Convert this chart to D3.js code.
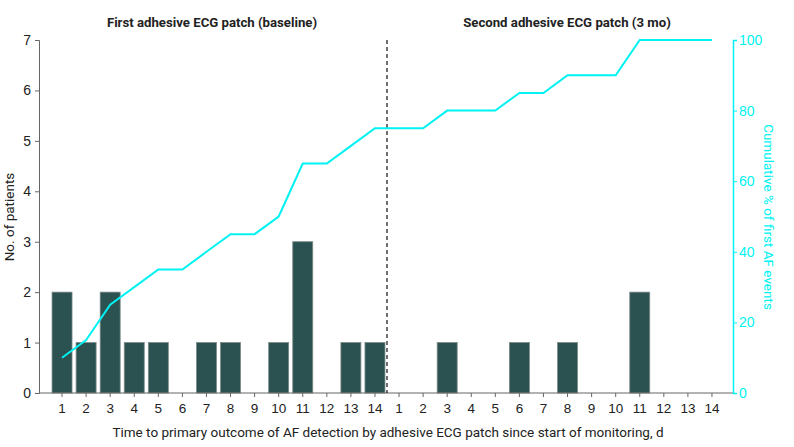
<!DOCTYPE html>
<html><head><meta charset="utf-8">
<script src="https://cdn.jsdelivr.net/npm/d3@7"></script>
<style>
body{margin:0;background:#fff;}
svg{display:block;font-family:"Roboto","Noto Sans",sans-serif;}
</style></head>
<body><svg id="c" width="794" height="447"></svg>
<script>
const days = [1,2,3,4,5,6,7,8,9,10,11,12,13,14];
const firstPatch = [2,1,2,1,1,0,1,1,0,1,3,0,1,1];
const secondPatch = [0,0,1,0,0,1,0,1,0,0,2,0,0,0];
const cumFirst = [10,15,25,30,35,35,40,45,45,50,65,65,70,75];
const cumSecond = [75,75,80,80,80,85,85,90,90,90,100,100,100,100];
const leftTicks = [0,1,2,3,4,5,6,7];
const rightTicks = [0,20,40,60,80,100];
const panelTitles = ["First adhesive ECG patch (baseline)","Second adhesive ECG patch (3 mo)"];

const svg = d3.select("#c");
const L = 39, R = 733, T = 40, B = 393;
const keys = days.map(d=>"a"+d).concat(days.map(d=>"b"+d));
const x = d3.scaleBand().domain(keys).range([50,724]).paddingInner(0.17).paddingOuter(0.085);
const y = d3.scaleLinear().domain([0,7]).range([B,T]);
const y2 = d3.scaleLinear().domain([0,100]).range([B,T]);

const barColor = "#2b5250", cyan = "#00f2f2", axisCol = "#666";

const bars = days.map((d,i)=>({k:"a"+d,v:firstPatch[i]})).concat(days.map((d,i)=>({k:"b"+d,v:secondPatch[i]}))).filter(d=>d.v>0);
svg.append("g").selectAll("rect").data(bars).join("rect")
  .attr("x",d=>x(d.k)).attr("width",x.bandwidth())
  .attr("y",d=>y(d.v)).attr("height",d=>y(0)-y(d.v))
  .attr("fill",barColor).attr("stroke","#7a8a88").attr("stroke-width",0.8);

// x axis
const xAxis = svg.append("g").attr("transform",`translate(0,${B})`)
  .call(d3.axisBottom(x).tickSize(4).tickFormat(k=>k.slice(1)));
xAxis.select(".domain").remove();
xAxis.append("line").attr("x1",L).attr("x2",R).attr("stroke",axisCol);
xAxis.selectAll(".tick line").attr("stroke",axisCol);
xAxis.selectAll("text").attr("font-size",13.5).attr("fill","#222").attr("dy","0.95em");

// left axis
const yAxis = svg.append("g").attr("transform",`translate(${L},0)`)
  .call(d3.axisLeft(y).tickValues(leftTicks).tickSize(4).tickFormat(d3.format("d")));
yAxis.select(".domain").attr("stroke",axisCol);
yAxis.selectAll(".tick line").attr("stroke",axisCol);
yAxis.selectAll("text").attr("font-size",14).attr("fill","#222").attr("x",-8);

// right axis
const rAxis = svg.append("g").attr("transform",`translate(${R},0)`)
  .call(d3.axisRight(y2).tickValues(rightTicks).tickSize(4).tickFormat(d3.format("d")));
rAxis.select(".domain").attr("stroke",cyan).attr("stroke-width",1.5);
rAxis.selectAll(".tick line").attr("stroke",cyan);
rAxis.selectAll("text").attr("font-size",14).attr("fill",cyan).attr("x",6);

// divider
const divX = (x("a14")+x.bandwidth()+x("b1"))/2;
svg.append("line").attr("x1",divX).attr("x2",divX).attr("y1",T).attr("y2",B)
  .attr("stroke","#111").attr("stroke-width",1.2).attr("stroke-dasharray","4,3");

// cumulative line
const cum = days.map((d,i)=>({k:"a"+d,v:cumFirst[i]})).concat(days.map((d,i)=>({k:"b"+d,v:cumSecond[i]})));
svg.append("path").datum(cum)
  .attr("d",d3.line().x(d=>x(d.k)+x.bandwidth()/2).y(d=>y2(d.v)))
  .attr("fill","none").attr("stroke",cyan).attr("stroke-width",2);

// titles
svg.append("text").attr("x",212).attr("y",27).attr("text-anchor","middle")
  .attr("font-size",13.2).attr("font-weight","bold").attr("fill","#222").text(panelTitles[0]);
svg.append("text").attr("x",567).attr("y",27).attr("text-anchor","middle")
  .attr("font-size",13.2).attr("font-weight","bold").attr("fill","#222").text(panelTitles[1]);

svg.append("text").attr("x",388).attr("y",437).attr("text-anchor","middle")
  .attr("font-size",13.5).attr("fill","#222")
  .text("Time to primary outcome of AF detection by adhesive ECG patch since start of monitoring, d");

svg.append("text").attr("transform",`translate(14,217) rotate(-90)`).attr("text-anchor","middle")
  .attr("font-size",13.5).attr("fill","#222").text("No. of patients");
svg.append("text").attr("transform",`translate(764,217) rotate(90)`).attr("text-anchor","middle")
  .attr("font-size",13.5).attr("fill",cyan).text("Cumulative % of first AF events");
</script></body></html>
